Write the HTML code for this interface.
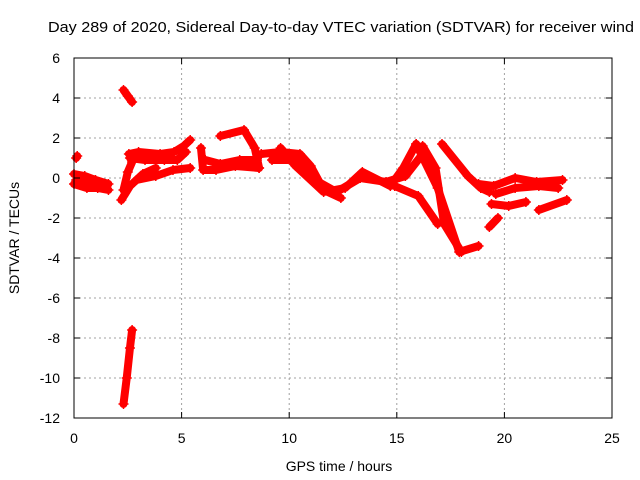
<!DOCTYPE html>
<html><head><meta charset="utf-8"><style>
body{margin:0;background:#fff}
svg{display:block;font-family:"Liberation Sans",sans-serif}
</style></head><body>
<svg width="640" height="480" viewBox="0 0 640 480">
<g id="grid"></g>
<g id="marks"></g>
<rect x="74" y="58" width="538" height="360" fill="none" stroke="#000" stroke-width="1"/>
<g id="axes"></g>
<text x="48" y="32" font-size="15" textLength="586" lengthAdjust="spacingAndGlyphs">Day 289 of 2020, Sidereal Day-to-day VTEC variation (SDTVAR) for receiver wind</text>
<text x="339" y="471" font-size="14" text-anchor="middle">GPS time / hours</text>
<text x="19" y="238" font-size="14" text-anchor="middle" transform="rotate(-90 19 238)">SDTVAR / TECUs</text>
</svg>
<script>
const xTicks=[0,5,10,15,20,25];
const yTicks=[-12,-10,-8,-6,-4,-2,0,2,4,6];
const trackLeftA=[[0,0.2],[0.5,0.1],[1,-0.1],[1.6,-0.3]];
const trackLeftB=[[0,-0.3],[0.6,-0.5],[1.1,-0.5],[1.6,-0.6]];
const trackLeftC=[[0.1,-0.1],[0.7,-0.2],[1.5,-0.4]];
const trackDot=[[0.1,1.0],[0.15,1.1]];
const trackHigh=[[2.3,4.4],[2.5,4.1],[2.7,3.8]];
const trackLow=[[2.3,-11.3],[2.45,-10],[2.6,-8.5],[2.7,-7.6]];
const trackA=[[2.55,1.2],[3,1.3],[4,1.2],[4.65,1.3],[5.1,1.6],[5.4,1.9]];
const trackA2=[[2.6,1.0],[3.3,0.9],[4.2,0.9],[4.8,0.9],[5.2,1.3]];
const trackB=[[2.9,-0.1],[3.8,0.1],[4.6,0.4],[5.4,0.5]];
const trackC=[[2.2,-1.1],[2.6,-0.4],[3.2,0.2],[3.8,0.5]];
const trackC2=[[2.3,-0.6],[2.5,0.3],[2.7,0.8]];
const trackD=[[5.9,1.5],[6,0.4],[6.6,0.4],[7.5,0.6],[8.6,0.5]];
const trackD2=[[6.1,0.9],[6.8,0.7],[7.7,0.9],[8.5,0.9]];
const trackE=[[6.8,2.1],[7.9,2.4],[8.4,1.5],[8.6,0.5]];
const trackF=[[8.7,1.2],[9.6,1.3],[10.5,1.2],[11,0.6],[11.6,-0.6],[12.4,-1.0]];
const trackG=[[9.6,1.5],[10.3,0.6],[11.6,-0.7],[12.6,-0.5],[13.4,0.3],[14.7,-0.4],[15.3,0.5],[15.9,1.7]];
const trackG2=[[9.2,0.9],[10.4,0.9],[11.2,-0.1],[12.2,-0.7],[13.3,0],[14.5,-0.2],[15.4,0.1],[16.2,1.2]];
const trackH1=[[15.9,1.7],[16.9,-0.5],[17.9,-3.7],[18.8,-3.4]];
const trackH2=[[16.2,1.6],[16.8,0.5],[17.2,-2.3],[18,-3.7]];
const trackH3=[[17.1,1.7],[18.3,0.1],[18.9,-0.5],[19.3,-0.7]];
const trackH4=[[14.9,-0.4],[16,-0.9],[16.9,-2.3]];
const trackR1=[[18.8,-0.3],[19.5,-0.4],[20.5,0],[21.5,-0.2],[22.7,-0.1]];
const trackR1b=[[19.6,-0.8],[20.5,-0.5],[21.6,-0.4],[22.5,-0.5]];
const trackR2=[[19.4,-1.3],[20.2,-1.4],[21,-1.2]];
const trackR3=[[21.6,-1.6],[22.9,-1.1]];
const trackR4=[[19.3,-2.45],[19.7,-2.0]];
const tracks=[trackLeftA,trackLeftB,trackLeftC,trackDot,trackHigh,trackLow,trackA,trackA2,trackB,trackC,trackC2,trackD,trackD2,trackE,trackF,trackG,trackG2,trackH1,trackH2,trackH3,trackH4,trackR1,trackR1b,trackR2,trackR3,trackR4];
const NS='http://www.w3.org/2000/svg';
const xs=h=>74+h*538/25, ys=v=>58+(6-v)*20;
const grid=document.getElementById('grid'),axes=document.getElementById('axes'),marks=document.getElementById('marks');
function mk(tag,at,par){const e=document.createElementNS(NS,tag);for(const k in at)e.setAttribute(k,at[k]);par.appendChild(e);return e;}
xTicks.forEach(t=>{const x=xs(t);
 if(t>0&&t<25){const l=mk('line',{x1:x,x2:x,y1:58,y2:418,stroke:'#a0a0a0','stroke-dasharray':'2,3'},grid);
 
 }
 mk('line',{x1:x,x2:x,y1:418,y2:412,stroke:'#000'},axes);mk('line',{x1:x,x2:x,y1:58,y2:64,stroke:'#000'},axes);
 const tx=mk('text',{x:x,y:443,'font-size':14,'text-anchor':'middle'},axes);tx.textContent=t;
 
 });
yTicks.forEach(t=>{const y=ys(t);
 if(t>-12&&t<6){const l=mk('line',{x1:74,x2:612,y1:y,y2:y,stroke:'#a0a0a0','stroke-dasharray':'2,3'},grid);
 
 }
 mk('line',{x1:74,x2:80,y1:y,y2:y,stroke:'#000'},axes);mk('line',{x1:612,x2:606,y1:y,y2:y,stroke:'#000'},axes);
 const tx=mk('text',{x:60,y:y+5,'font-size':14,'text-anchor':'end'},axes);tx.textContent=t;
 
 });
tracks.forEach(tr=>{
 const p=mk('polyline',{points:tr.map(d=>xs(d[0])+','+ys(d[1])).join(' '),fill:'none',stroke:'#ff0000','stroke-width':8,'stroke-linejoin':'round','stroke-linecap':'round'},marks);
 
 
 tr.forEach(d=>{const x=xs(d[0]),y=ys(d[1]);
  const m=mk('path',{d:`M${x-5},${y}h10M${x},${y-5}v10`,stroke:'#ff0000','stroke-width':1.5},marks);
  
  });
});
</script>
</body></html>
